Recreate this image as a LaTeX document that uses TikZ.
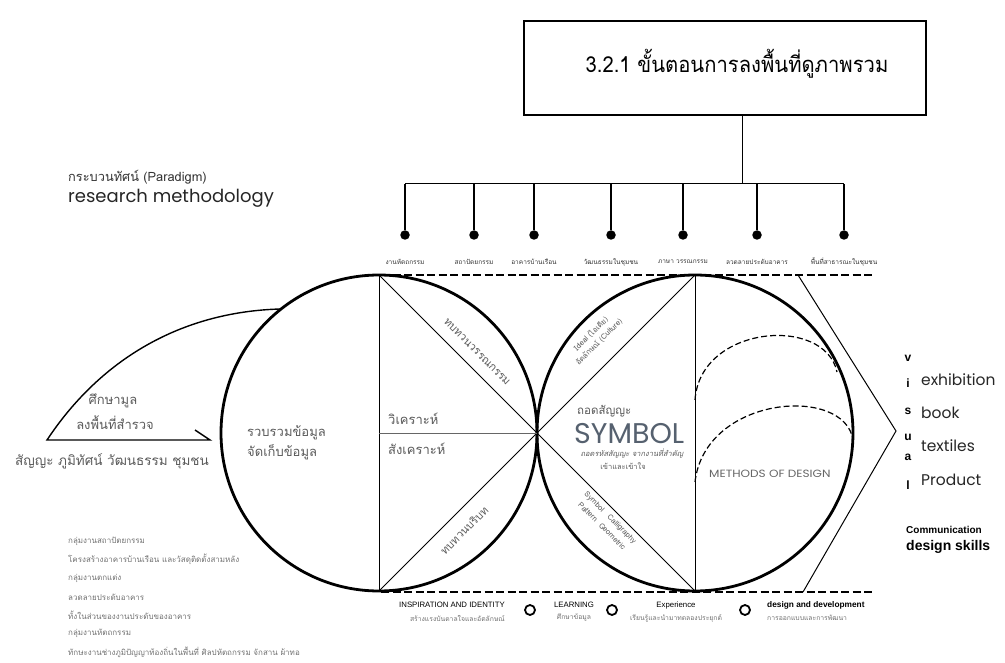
\documentclass[tikz,border=0pt]{standalone}
\usepackage{fontspec}
\setmainfont{Liberation Sans}
\newfontfamily\thai[Script=Thai]{Loma}
\newfontfamily\geo{Poppins}
\newcommand{\fs}[1]{\fontsize{#1}{#1}\selectfont}
\newcommand{\fsl}[2]{\fontsize{#1}{#2}\selectfont}
\definecolor{txtgray}{HTML}{5A5A5A}
\definecolor{lightgray}{HTML}{707070}
\definecolor{symcol}{HTML}{56616F}
\begin{document}
\begin{tikzpicture}[x=1pt,y=-1pt,
  heavy/.style={line width=2.8pt},
  rule/.style={line width=1pt},
  stem/.style={line width=1.5pt},
  dashrule/.style={line width=1.6pt, dash pattern=on 8pt off 3.5pt},
  dasharc/.style={line width=1.2pt, dash pattern=on 6pt off 3pt},
  dot/.style={circle, fill=black, inner sep=0pt, minimum size=9.5pt},
  ring/.style={circle, draw=black, line width=1.8pt, inner sep=0pt, minimum size=10pt},
  lbl/.style={inner sep=0pt},
  tinylbl/.style={lbl, font=\thai\fs{6.5}, text=black!80},
  graythai/.style={lbl, font=\thai\fs{13}, text=txtgray},
  listthai/.style={lbl, anchor=west, font=\thai\fs{8}, text=lightgray},
  vis/.style={lbl, font=\bfseries\fs{12}},
  prod/.style={lbl, anchor=west, font=\geo\fs{15.5}, text=black!85},
  bottomen/.style={lbl, font=\fs{7.8}},
  bottomth/.style={lbl, font=\thai\fs{6.8}, text=lightgray},
  ]
\useasboundingbox (0,0) rectangle (1005,663);

% title box
\node[draw, line width=1.4pt, minimum width=402pt, minimum height=94pt, inner sep=0pt] (title) at (725,68) {};
\node[lbl, font=\thai\fs{22}] (titletext) at (737,64) {\scalebox{0.92}[1]{3.2.1 ขั้นตอนการลงพื้นที่ดูภาพรวม}};
\coordinate (hub) at (742,184);
\draw[rule] (title.south -| hub) -- (hub);
\coordinate (barL) at (405,184);
\coordinate (barR) at (844,184);
\draw[rule] (barL) -- (barR);

% paradigm text
\node[lbl, anchor=west, font=\thai\fs{12.8}, text=black!80] (paradigm) at (68,177) {กระบวนทัศน์ (Paradigm)};
\node[lbl, anchor=west, font=\geo\fs{18}, text=black!85] (method) at (68,198) {research methodology};

% stems, dots, labels
\foreach \i/\x/\t in {1/405/งานหัตถกรรม, 2/474/สถาปัตยกรรม, 3/534/อาคารบ้านเรือน, 4/611/วัฒนธรรมในชุมชน, 5/683/ภาษา วรรณกรรม, 6/757/ลวดลายประดับอาคาร, 7/844/พื้นที่สาธารณะในชุมชน}{
  \coordinate (s\i) at (\x,184);
  \node[dot] (d\i) at (\x,235) {};
  \draw[stem] (s\i) -- (d\i);
  \node[tinylbl] (t\i) at (\x,262) {\t};
}

% dashed frame lines
\coordinate (dTL) at (381,275);
\coordinate (dTR) at (873,275);
\coordinate (dBL) at (381,592);
\coordinate (dBR) at (873,592);
\draw[dashrule] (dTL) -- (dTR);
\draw[dashrule] (dBL) -- (dBR);

% circles
\node[circle, draw, heavy, minimum size=316pt, inner sep=0pt] (cL) at (379,433) {};
\node[circle, draw, heavy, minimum size=316pt, inner sep=0pt] (cR) at (695,433) {};

% square lines
\coordinate (TL) at (379,275);
\coordinate (BL) at (379,591);
\coordinate (TR) at (695,275);
\coordinate (BR) at (695,591);
\coordinate (mid) at (537,433);
\coordinate (midL) at (379,433);
\draw[rule] (TL) -- (BL);
\draw[rule] (TR) -- (BR);
\draw[rule] (TL) -- (BR);
\draw[rule] (BL) -- (TR);
\draw[line width=0.6pt, black!60] (midL) -- (mid);

% chevron
\coordinate (chA) at (798,275);
\coordinate (chP) at (896,431);
\coordinate (chB) at (803,592);
\draw[rule] (chA) -- (chP) -- (chB);

% dashed arcs
\coordinate (a1s) at (695,400);
\coordinate (a1e) at (837,372);
\coordinate (a2s) at (695,482);
\coordinate (a2e) at (853,440);
\draw[dasharc] (a1s) .. controls (700,325) and (825,315) .. (a1e);
\draw[dasharc] (a2s) .. controls (705,395) and (845,385) .. (a2e);

% left feedback shape
\coordinate (lp) at (280,309);
\coordinate (lb) at (47,440);
\coordinate (lh) at (210,440);
\coordinate (lt) at (195,430);
\draw[line width=1.4pt] (lp) .. controls (180,312) and (100,360) .. (lb) -- (lh) -- (lt);
\node[lbl, font=\thai\fs{13}, text=txtgray] (study1) at (113,401) {ศึกษามูล};
\node[lbl, font=\thai\fs{13}, text=txtgray] (study2) at (115,423) {ลงพื้นที่สำรวจ};
\node[lbl, font=\thai\fs{13.5}, text=txtgray] (sym4) at (112,461) {สัญญะ ภูมิทัศน์ วัฒนธรรม ชุมชน};

% left circle text
\node[graythai, anchor=west] (collect1) at (247,433) {รวบรวมข้อมูล};
\node[graythai, anchor=west] (collect2) at (247,452) {จัดเก็บข้อมูล};
\node[graythai, anchor=west] (anal) at (388,419) {วิเคราะห์};
\node[graythai, anchor=west] (synth) at (388,449) {สังเคราะห์};
\node[lbl, font=\thai\fs{11}, text=txtgray, rotate=-45] (review1) at (477,352) {ทบทวนวรรณกรรม};
\node[lbl, font=\thai\fs{11}, text=txtgray, rotate=45] (review2) at (464,530) {ทบทวนบริบท};

% right circle text
\node[lbl, font=\thai\fs{7.5}, text=txtgray, rotate=45] (ideal1) at (591,334) {Ideal (ไอเดีย)};
\node[lbl, font=\thai\fs{7.5}, text=txtgray, rotate=45] (ideal2) at (599,342) {อัตลักษณ์ (Culture)};
\node[lbl, font=\thai\fs{7.5}, text=txtgray, rotate=-45] (callig1) at (610,518) {Symbol\quad Calligraphy};
\node[lbl, font=\thai\fs{7.5}, text=txtgray, rotate=-45] (callig2) at (602,526) {Pattern\ \ Geometric};
\node[lbl, anchor=west, font=\thai\fs{11.5}, text=txtgray] (decode) at (577,411) {ถอดสัญญะ};
\node[lbl, anchor=west, font=\geo\fs{28.5}, text=symcol] (symbol) at (574,434) {SYMBOL};
\node[lbl, font=\thai\itshape\fs{7.5}, text=txtgray] (decode2) at (632,453) {ถอดรหัสสัญญะ จากงานที่สำคัญ};
\node[lbl, font=\thai\fs{7.5}, text=txtgray] (decode3) at (623,466) {เข้าและเข้าใจ};
\node[lbl, anchor=west, font=\geo\fs{10.5}, text=black!60] (methods) at (709,474) {\scalebox{1.15}[1]{METHODS OF DESIGN}};

% visual list
\node[vis] (vv) at (908,358) {v};
\node[vis] (vi) at (908,383) {i};
\node[vis] (vs) at (908,411) {s};
\node[vis] (vu) at (908,437) {u};
\node[vis] (va) at (908,457) {a};
\node[vis] (vl) at (908,485) {l};
\node[prod] (exh) at (921,380) {exhibition};
\node[prod] (book) at (921,413) {book};
\node[prod] (tex) at (921,446) {textiles};
\node[prod] (product) at (921,480) {Product};
\node[lbl, anchor=west, font=\bfseries\fs{10}] (comm) at (906,530) {Communication};
\node[lbl, anchor=west, font=\bfseries\fs{14}] (skills) at (906,547) {design skills};

% bottom labels
\node[bottomen, anchor=east] (insp) at (505,605) {INSPIRATION AND IDENTITY};
\node[bottomth, anchor=east] (insp2) at (505,618) {สร้างแรงบันดาลใจและอัตลักษณ์};
\node[ring] (r1) at (530,610) {};
\node[bottomen] (learn) at (574,605) {LEARNING};
\node[bottomth] (learn2) at (574,618) {ศึกษาข้อมูล};
\node[ring] (r2) at (612,610) {};
\node[bottomen] (exp) at (676,605) {Experience};
\node[bottomth] (exp2) at (676,618) {เรียนรู้และนำมาทดลองประยุกต์};
\node[ring] (r3) at (745,610) {};
\node[bottomen, anchor=west, font=\bfseries\fs{8.3}] (dd) at (767,605) {design and development};
\node[bottomth, anchor=west] (dd2) at (767,618) {การออกแบบและการพัฒนา};

% bottom-left list
\node[listthai] (g1) at (68,541) {กลุ่มงานสถาปัตยกรรม};
\node[listthai] (g2) at (68,559) {โครงสร้างอาคารบ้านเรือน และวัสดุติดตั้งสามหลัง};
\node[listthai] (g3) at (68,578) {กลุ่มงานตกแต่ง};
\node[listthai] (g4) at (68,597) {ลวดลายประดับอาคาร};
\node[listthai] (g5) at (68,615) {ทั้งในส่วนของงานประดับของอาคาร};
\node[listthai] (g6) at (68,633) {กลุ่มงานหัตถกรรม};
\node[listthai] (g7) at (68,652) {ทักษะงานช่างภูมิปัญญาท้องถิ่นในพื้นที่ ศิลปหัตถกรรม จักสาน ผ้าทอ};
\end{tikzpicture}
\end{document}
